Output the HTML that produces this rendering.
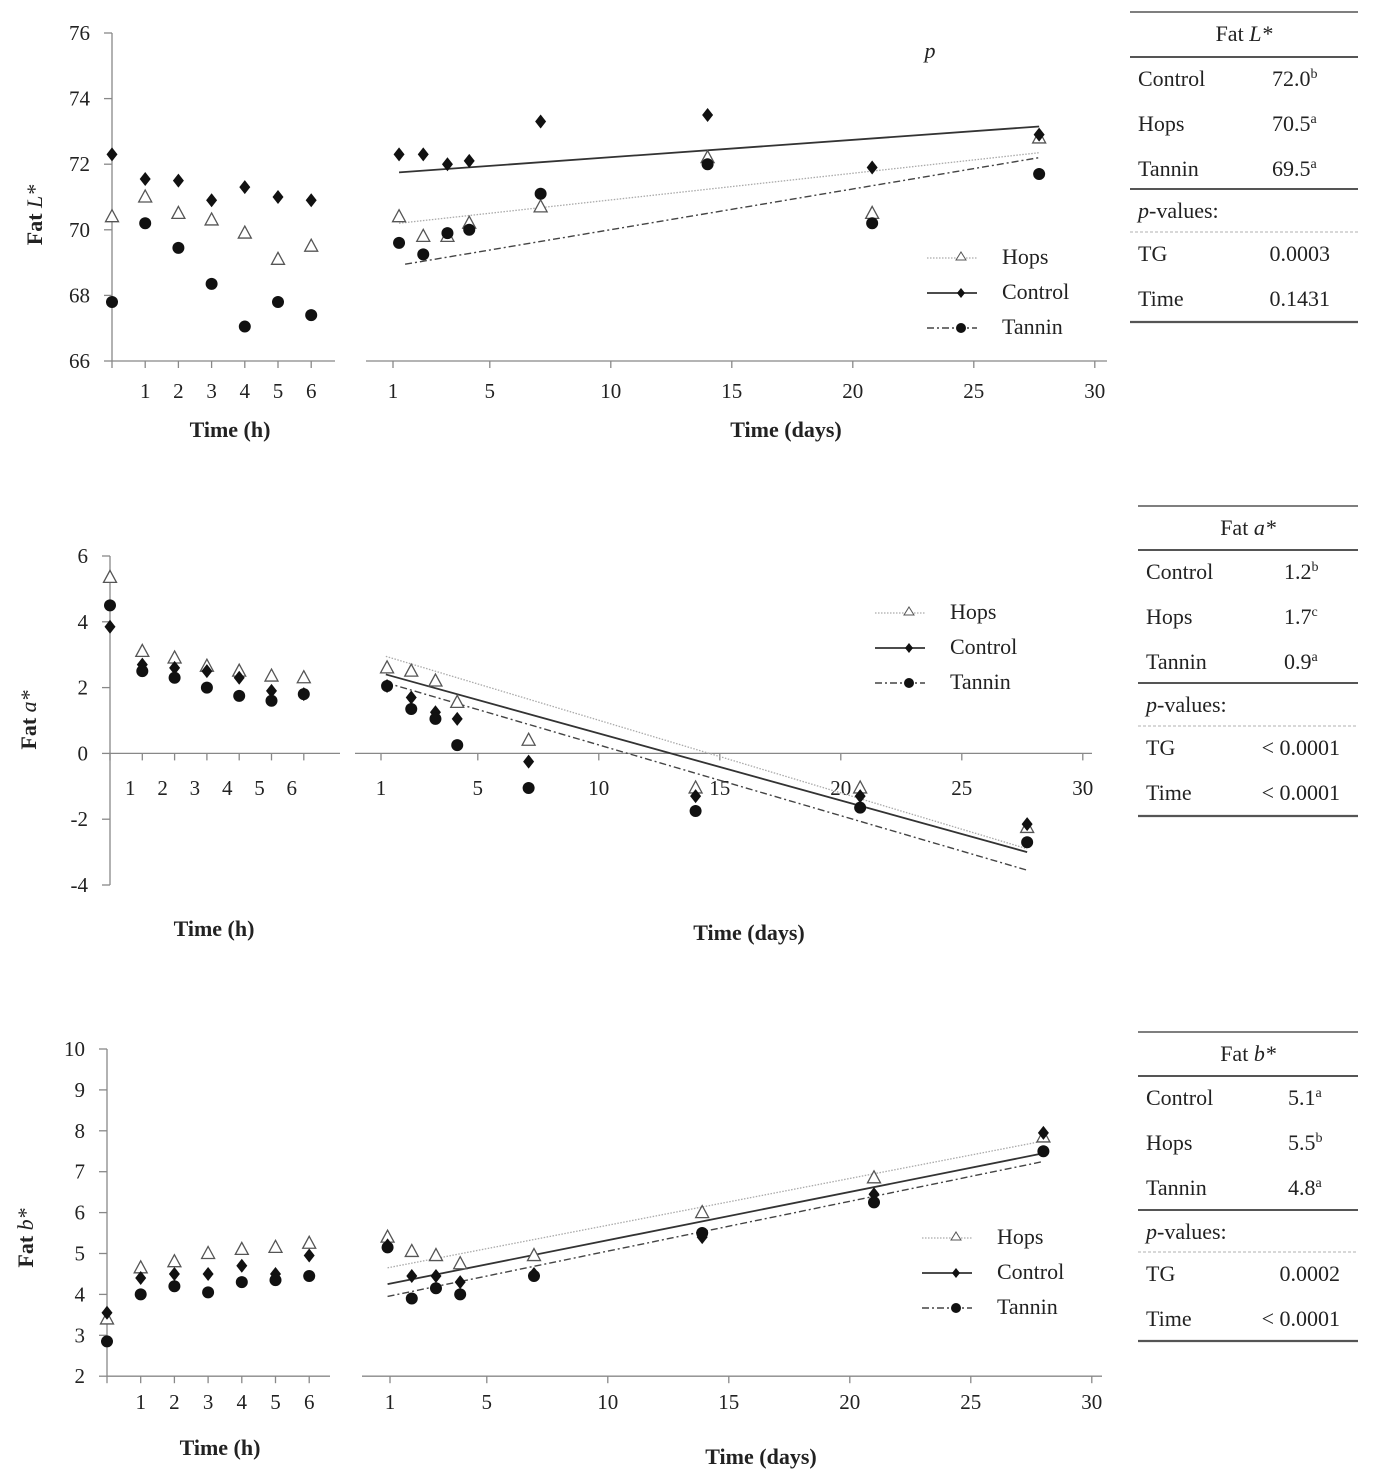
<!DOCTYPE html>
<html><head><meta charset="utf-8">
<style>
html,body{margin:0;padding:0;background:#fff;}
svg{display:block;font-family:"Liberation Serif",serif;}
</style></head>
<body>
<svg id="fig" width="1378" height="1482" viewBox="0 0 1378 1482" xmlns="http://www.w3.org/2000/svg"></svg>
<script>
// ---------- DATA ----------
const hours = [0,1,2,3,4,5,6];
const daysA = [1.25,2.25,3.25,4.15,7.1,14,20.8,27.7];
const daysB = [0.9,1.9,2.9,3.9,6.95,13.9,21,28];
const dayTicks = [1,5,10,15,20,25,30];

const L_hControl = [72.3,71.55,71.5,70.9,71.3,71.0,70.9];
const L_hHops    = [70.4,71.0,70.5,70.3,69.9,69.1,69.5];
const L_hTannin  = [67.8,70.2,69.45,68.35,67.05,67.8,67.4];
const L_dControl = [72.3,72.3,72.0,72.1,73.3,73.5,71.9,72.9];
const L_dHops    = [70.4,69.8,69.8,70.2,70.7,72.2,70.5,72.8];
const L_dTannin  = [69.6,69.25,69.9,70.0,71.1,72.0,70.2,71.7];
const L_trendControl = [1.25,71.75,27.7,73.15];
const L_trendHops    = [1.25,70.2,27.7,72.35];
const L_trendTannin  = [1.5,68.95,27.7,72.2];
const L_yTicks = [66,68,70,72,74,76];

const a_hControl = [3.85,2.7,2.6,2.5,2.3,1.9,1.8];
const a_hHops    = [5.35,3.1,2.9,2.65,2.5,2.35,2.3];
const a_hTannin  = [4.5,2.5,2.3,2.0,1.75,1.6,1.8];
const a_dControl = [2.05,1.7,1.25,1.05,-0.25,-1.3,-1.3,-2.15];
const a_dHops    = [2.6,2.5,2.2,1.55,0.4,-1.05,-1.05,-2.25];
const a_dTannin  = [2.05,1.35,1.05,0.25,-1.05,-1.75,-1.65,-2.7];
const a_trendControl = [1.2,2.4,27.7,-3.0];
const a_trendHops    = [1.2,2.95,27.7,-2.9];
const a_trendTannin  = [1.2,2.15,27.7,-3.55];
const a_yTicks = [-4,-2,0,2,4,6];

const b_hControl = [3.55,4.4,4.5,4.5,4.7,4.5,4.95];
const b_hHops    = [3.4,4.65,4.8,5.0,5.1,5.15,5.25];
const b_hTannin  = [2.85,4.0,4.2,4.05,4.3,4.35,4.45];
const b_dControl = [5.2,4.45,4.45,4.3,4.5,5.4,6.45,7.95];
const b_dHops    = [5.4,5.05,4.95,4.75,4.95,6.0,6.85,7.85];
const b_dTannin  = [5.15,3.9,4.15,4.0,4.45,5.5,6.25,7.5];
const b_trendControl = [0.9,4.25,28,7.45];
const b_trendHops    = [0.9,4.65,28,7.75];
const b_trendTannin  = [0.9,3.95,28,7.25];
const b_yTicks = [2,3,4,5,6,7,8,9,10];

// ---------- DRAW ----------
const NS="http://www.w3.org/2000/svg";
const svg=document.getElementById('fig');
function mk(tag,attrs,parent,text){
  const e=document.createElementNS(NS,tag);
  for(const k in attrs) e.setAttribute(k,attrs[k]);
  if(text!==undefined) e.textContent=text;
  (parent||svg).appendChild(e); return e;
}
function txt(x,y,s,size,parent,anchor,extra){
  return mk('text',Object.assign({x:x,y:y,'font-size':size,'text-anchor':anchor||'middle',fill:'#222'},extra||{}),parent,s);
}
function marker(kind,x,y,g){
  if(kind==='hops') return mk('path',{d:`M${x},${y-7} L${x+6.5},${y+5} L${x-6.5},${y+5} Z`,fill:'#fff',stroke:'#555','stroke-width':1.3},g);
  if(kind==='control') return mk('path',{d:`M${x},${y-7} L${x+5.5},${y} L${x},${y+7} L${x-5.5},${y} Z`,fill:'#111'},g);
  return mk('circle',{cx:x,cy:y,r:6,fill:'#111'},g);
}
const lineStyle={
  hops:{stroke:'#aaa','stroke-width':1.3,'stroke-dasharray':'1.5,1.5'},
  control:{stroke:'#333','stroke-width':1.8},
  tannin:{stroke:'#444','stroke-width':1.4,'stroke-dasharray':'7,3,2,3'}
};

function panel(P){
  const g=mk('g',{});
  
  
  const y=v=>P.yTop+(P.yMax-v)*P.ky;
  const hx=h=>P.hx0+h*P.hstep;
  const dx=d=>P.dx1+(d-1)*24.2;
  const ax={stroke:'#888','stroke-width':1.3,fill:'none'};
  const yax=mk('line',Object.assign({x1:P.hx0,y1:y(P.yTicks[P.yTicks.length-1]),x2:P.hx0,y2:y(P.yTicks[0])},ax),g);
  
  
  P.yTicks.forEach(v=>{
    mk('line',Object.assign({x1:P.hx0-8,y1:y(v),x2:P.hx0,y2:y(v)},ax),g);
    const t=txt(P.hx0-22,y(v)+7,String(v),21,g,'end');
    
    
  });
  const hax=mk('line',Object.assign({x1:P.hx0,y1:y(P.xAxisV),x2:P.hEnd,y2:y(P.xAxisV)},ax),g);
  
  
  hours.forEach(h=>{
    mk('line',Object.assign({x1:hx(h),y1:y(P.xAxisV),x2:hx(h),y2:y(P.xAxisV)+7},ax),g);
    if(h>0){
      const t=txt(hx(h)+P.hLabOff,P.hLabY,String(h),21,g);
      
      
    }
  });
  const dax=mk('line',Object.assign({x1:P.dStart,y1:y(P.xAxisV),x2:P.dEnd,y2:y(P.xAxisV)},ax),g);
  
  
  dayTicks.forEach(d=>{
    mk('line',Object.assign({x1:dx(d),y1:y(P.xAxisV),x2:dx(d),y2:y(P.xAxisV)+7},ax),g);
    const t=txt(dx(d),P.dLabY,String(d),21,g);
    
    
  });
  [['hops',P.tH],['control',P.tC],['tannin',P.tT]].forEach(([k,t])=>{
    const l=mk('line',Object.assign({x1:dx(t[0]),y1:y(t[1]),x2:dx(t[2]),y2:y(t[3])},lineStyle[k]),g);
    
    
  });
  [['hops',P.hH,P.dH],['control',P.hC,P.dC],['tannin',P.hT,P.dT]].forEach(([k,hv,dv])=>{
    hv.forEach((v,i)=>{
      const m=marker(k,hx(hours[i]),y(v),g);
      
      
    });
    dv.forEach((v,i)=>{
      const m=marker(k,dx(P.days[i]),y(v),g);
      
      
    });
  });
  const t1=txt(P.hTitle[0],P.hTitle[1],'Time (h)',22,g,'middle',{'font-weight':'bold'});
  
  
  const t2=txt(P.dTitle[0],P.dTitle[1],'Time (days)',22,g,'middle',{'font-weight':'bold'});
  
  
  const yt=mk('text',{x:0,y:0,'font-size':22,'font-weight':'bold','text-anchor':'middle',fill:'#222',transform:`translate(${P.yTitle[0]},${P.yTitle[1]}) rotate(-90)`},g);
  
  
  yt.appendChild(document.createTextNode('Fat  '));
  mk('tspan',{'font-style':'italic','font-weight':'normal'},yt,P.yLetter+'*');
  const lg=mk('g',{},g);
  
  
  [['hops','Hops'],['control','Control'],['tannin','Tannin']].forEach(([k,s],i)=>{
    const ly=P.leg[1]+i*P.leg[2];
    const e=mk('g',{},lg);
    
    
    mk('line',Object.assign({x1:P.leg[0],y1:ly+2,x2:P.leg[0]+50,y2:ly+2},lineStyle[k]),e);
    if(k==='hops') mk('path',{d:`M${P.leg[0]+34},${ly-4} L${P.leg[0]+39},${ly+4} L${P.leg[0]+29},${ly+4} Z`,fill:'#fff',stroke:'#555','stroke-width':1},e);
    else if(k==='control') mk('path',{d:`M${P.leg[0]+34},${ly-3} L${P.leg[0]+38},${ly+2} L${P.leg[0]+34},${ly+7} L${P.leg[0]+30},${ly+2} Z`,fill:'#111'},e);
    else mk('circle',{cx:P.leg[0]+34,cy:ly+2,r:5,fill:'#111'},e);
    txt(P.leg[0]+75,ly+8,s,22,e,'start');
  });
}

function table(T){
  const g=mk('g',{});
  
  
  const hl=(yy,w,dash)=>mk('line',{x1:T.x0,y1:yy,x2:T.x1,y2:yy,stroke:dash?'#999':'#555','stroke-width':w,'stroke-dasharray':dash?'3,2':'none'},g);
  hl(T.lines[0],1.6);hl(T.lines[1],2);hl(T.lines[2],2);hl(T.lines[3],0.8,true);hl(T.lines[4],2.2);
  const h=txt((T.x0+T.x1)/2,T.lines[0]+29,'Fat  ',22,g);
  mk('tspan',{'font-style':'italic'},h,T.letter+'*');
  const rows=[['Control',T.vals[0]],['Hops',T.vals[1]],['Tannin',T.vals[2]]];
  rows.forEach((r,i)=>{
    const yy=T.lines[1]+29+i*45;
    txt(T.x0+8,yy,r[0],22,g,'start');
    const v=txt(T.vx,yy,r[1][0],22,g,'start');
    mk('tspan',{'font-size':14,dy:-8},v,r[1][1]);
  });
  const p=txt(T.x0+8,T.lines[2]+29,'',22,g,'start');
  mk('tspan',{'font-style':'italic'},p,'p');
  mk('tspan',{},p,'-values:');
  txt(T.x0+8,T.lines[3]+29,'TG',22,g,'start');
  txt(T.pvx,T.lines[3]+29,T.p[0],22,g,'end');
  txt(T.x0+8,T.lines[3]+74,'Time',22,g,'start');
  txt(T.pvx,T.lines[3]+74,T.p[1],22,g,'end');
}

panel({name:'fat-L-chart',yTop:33,yMax:76,ky:32.8,yTicks:L_yTicks,xAxisV:66,hx0:112,hstep:33.2,hEnd:335,hLabOff:0,hLabY:398,
  dx1:393,dStart:366,dEnd:1107,dLabY:398,days:daysA,
  hH:L_hHops,hC:L_hControl,hT:L_hTannin,dH:L_dHops,dC:L_dControl,dT:L_dTannin,
  tH:L_trendHops,tC:L_trendControl,tT:L_trendTannin,
  hTitle:[230,437],dTitle:[786,437],yTitle:[42,215],yLetter:'L',leg:[927,256,35]});
panel({name:'fat-a-chart',yTop:556,yMax:6,ky:32.9,yTicks:a_yTicks,xAxisV:0,hx0:110,hstep:32.3,hEnd:340,hLabOff:-12,hLabY:795,
  dx1:381,dStart:355,dEnd:1092,dLabY:795,days:daysA,
  hH:a_hHops,hC:a_hControl,hT:a_hTannin,dH:a_dHops,dC:a_dControl,dT:a_dTannin,
  tH:a_trendHops,tC:a_trendControl,tT:a_trendTannin,
  hTitle:[214,936],dTitle:[749,940],yTitle:[36,720],yLetter:'a',leg:[875,611,35]});
panel({name:'fat-b-chart',yTop:1049,yMax:10,ky:40.9,yTicks:b_yTicks,xAxisV:2,hx0:107,hstep:33.7,hEnd:330,hLabOff:0,hLabY:1409,
  dx1:390,dStart:362,dEnd:1102,dLabY:1409,days:daysB,
  hH:b_hHops,hC:b_hControl,hT:b_hTannin,dH:b_dHops,dC:b_dControl,dT:b_dTannin,
  tH:b_trendHops,tC:b_trendControl,tT:b_trendTannin,
  hTitle:[220,1455],dTitle:[761,1464],yTitle:[33,1238],yLetter:'b',leg:[922,1236,35]});

const pp=txt(930,58,'p',22,svg,'middle',{'font-style':'italic'});



table({name:'fat-L-table',x0:1130,x1:1358,lines:[12,57,189,232,322],letter:'L',vx:1272,pvx:1330,
  vals:[['72.0','b'],['70.5','a'],['69.5','a']],p:['0.0003','0.1431']});
table({name:'fat-a-table',x0:1138,x1:1358,lines:[506,550,683,726,816],letter:'a',vx:1284,pvx:1340,
  vals:[['1.2','b'],['1.7','c'],['0.9','a']],p:['< 0.0001','< 0.0001']});
table({name:'fat-b-table',x0:1138,x1:1358,lines:[1032,1076,1210,1252,1341],letter:'b',vx:1288,pvx:1340,
  vals:[['5.1','a'],['5.5','b'],['4.8','a']],p:['0.0002','< 0.0001']});
</script>
</body></html>
